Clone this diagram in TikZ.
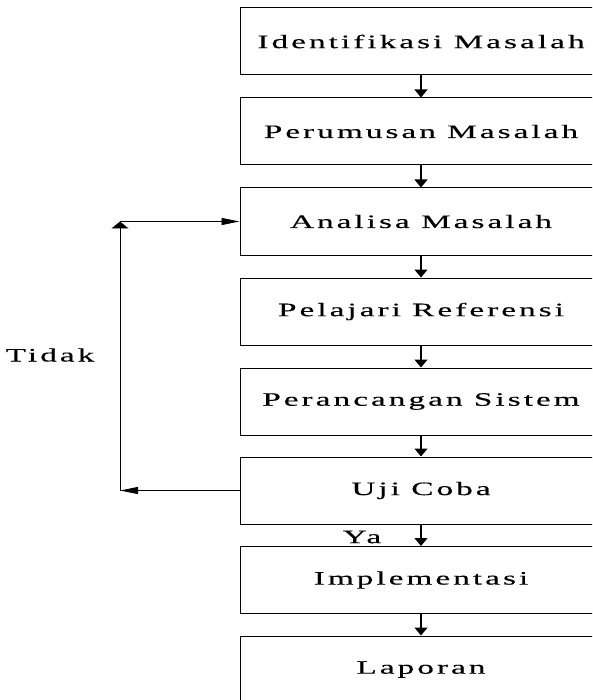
\documentclass[tikz,border=0pt]{standalone}
\usepackage{fontspec}
\setmainfont{Liberation Serif}[FakeStretch=1.75,LetterSpace=16,FakeBold=0.3]
\usetikzlibrary{arrows.meta}
\begin{document}
\begin{tikzpicture}[x=1pt,y=-1pt,
  stepbox/.style={draw,line width=1pt,minimum width=362pt,minimum height=67pt,inner sep=0pt,font=\fontsize{19}{22}\selectfont},
  flow/.style={line width=1.2pt,-{Triangle[width=13pt,length=8pt]}},
  backh/.style={line width=0.8pt,-{Triangle[width=7pt,length=18pt]}},
  backv/.style={line width=0.8pt,-{Triangle[width=17pt,length=7pt]}},
  lbl/.style={font=\fontsize{19}{22}\selectfont}]
\useasboundingbox (0,0) rectangle (592,700);
\clip (0,0) rectangle (592,700);
\node[stepbox] (b1) at (421,41.5) {Identifikasi Masalah};
\node[stepbox] (b2) at (421,131.5) {Perumusan Masalah};
\node[stepbox] (b3) at (421,221.5) {Analisa Masalah};
\node[stepbox] (b4) at (421,311.5) {Pelajari Referensi};
\node[stepbox] (b5) at (421,401.5) {Perancangan Sistem};
\node[stepbox] (b6) at (421,490.5) {Uji Coba};
\node[stepbox] (b7) at (421,580) {Implementasi};
\node[stepbox] (b8) at (421,669.5) {Laporan};
\foreach \a/\b in {b1/b2,b2/b3,b3/b4,b4/b5,b5/b6,b6/b7,b7/b8}
  \draw[flow] (\a.south) -- (\b.north);
\coordinate (c1) at (120,490.5);
\coordinate (c2) at (120,221.5);
\draw[backh] (b6.west) -- (c1);
\draw[backv] (c1) -- (c2);
\draw[backh] (c2) -- (b3.west);
\node[lbl] (tidak) at (50,355) {Tidak};
\node[lbl] (ya) at (362,537) {Ya};
\end{tikzpicture}
\end{document}
